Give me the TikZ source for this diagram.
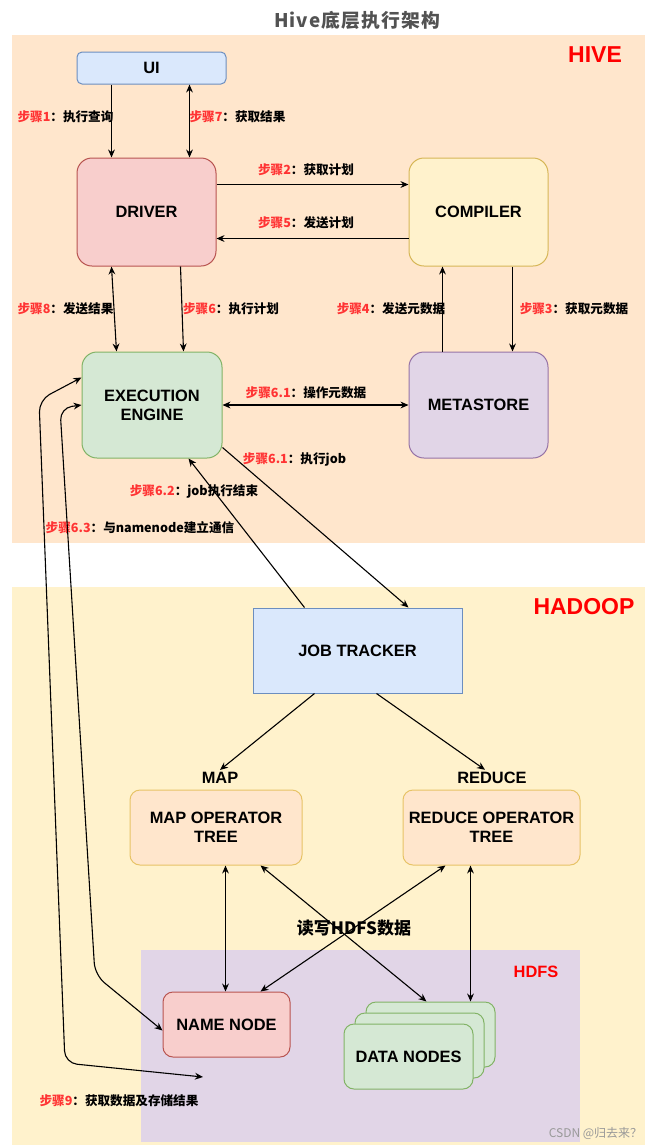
\documentclass[tikz,border=0pt]{standalone}
\usepackage{fontspec}
\setmainfont{Liberation Sans}
\newfontfamily\cjk{Noto Sans CJK SC}
\usetikzlibrary{arrows.meta,calc,positioning}
\definecolor{blueF}{HTML}{DAE8FC}\definecolor{blueD}{HTML}{6C8EBF}
\definecolor{redF}{HTML}{F8CECC}\definecolor{redD}{HTML}{B85450}
\definecolor{yelF}{HTML}{FFF2CC}\definecolor{yelD}{HTML}{D6B656}
\definecolor{grnF}{HTML}{D5E8D4}\definecolor{grnD}{HTML}{82B366}
\definecolor{purF}{HTML}{E1D5E7}\definecolor{purD}{HTML}{9673A6}
\definecolor{orgF}{HTML}{FFE6CC}\definecolor{orgD}{HTML}{D79B00}
\definecolor{stepred}{HTML}{FF3333}
\newcommand{\steptxt}[2]{{\color{stepred}步骤#1}：#2}
\tikzset{
    box/.style={draw, line width=0.5pt, align=center, inner sep=0pt, font=\fontsize{8.2}{9.6}\selectfont\bfseries},
    link/.style={draw, line width=0.55pt, -{Stealth[length=4pt,width=3.4pt]}}, % 单向箭头
    both/.style={link, {Stealth[length=4pt,width=3.4pt]}-{Stealth[length=4pt,width=3.4pt]}},
    steplbl/.style={inner sep=0pt, font=\cjk\fontsize{6.3}{7.5}\selectfont\bfseries},
    arealbl/.style={inner sep=0pt, text=red, font=\fontsize{11.5}{13}\selectfont\bfseries}
}
\begin{document}
\begin{tikzpicture}[x=0.5pt, y=-0.5pt]
	\useasboundingbox (0,0) rectangle (650,1147);
	\node (title) [inner sep=0pt, text=black!68, font=\cjk\fontsize{9.4}{11}\selectfont\bfseries\addfontfeature{LetterSpace=6}] at (357,20) {Hive底层执行架构};

	% 区域
	\fill[orgF] (12,35) rectangle (645,543);
	\fill[yelF] (12,587) rectangle (645,1145);
	\fill[purF] (141,950) rectangle (580,1142);
	\node (hive) [arealbl] at (595,55) {HIVE};
	\node (hadoop) [arealbl] at (584,607) {HADOOP};
	\node (hdfs) [arealbl, font=\fontsize{8.2}{10}\selectfont\bfseries] at (536,972) {HDFS};

	\node (ui) [box, fill=blueF, draw=blueD, rounded corners=2.5pt, minimum width=74.5pt, minimum height=16pt] at (151.5,68) {UI};
	\node (driver) [box, fill=redF, draw=redD, rounded corners=7.5pt, minimum width=69.5pt, minimum height=54pt] at (146.5,212) {DRIVER};
	\node (compiler) [box, fill=yelF, draw=yelD, rounded corners=7.5pt, minimum width=69.5pt, minimum height=54pt] at (478.5,212) {COMPILER};
	\node (exec) [box, fill=grnF, draw=grnD, rounded corners=7.5pt, minimum width=70pt, minimum height=53pt] at (152,405) {EXECUTION\\ENGINE};
	\node (metastore) [box, fill=purF, draw=purD, rounded corners=7.5pt, minimum width=69.5pt, minimum height=53pt] at (478.5,405) {METASTORE};

	\node (jt) [box, fill=blueF, draw=blueD, minimum width=104.5pt, minimum height=42.5pt] at (357.5,650.5) {JOB TRACKER};
	\node (maplbl) [inner sep=1pt, font=\fontsize{8.2}{9.6}\selectfont\bfseries] at (220,778) {MAP};
	\node (redlbl) [inner sep=1pt, font=\fontsize{8.2}{9.6}\selectfont\bfseries] at (492,778) {REDUCE};
	\node (map) [box, fill=orgF, draw=orgD!60, rounded corners=5pt, minimum width=86pt, minimum height=37.5pt] at (216,827.5) {MAP OPERATOR\\TREE};
	\node (reduce) [box, fill=orgF, draw=orgD!60, rounded corners=5pt, minimum width=88.5pt, minimum height=37.5pt] at (491.5,827.5) {REDUCE OPERATOR\\TREE};
	\node (rw) [inner sep=0pt, font=\cjk\fontsize{8.5}{10}\selectfont\bfseries] at (354,928) {读写HDFS数据};

	\node (namenode) [box, fill=redF, draw=redD, rounded corners=5pt, minimum width=63.5pt, minimum height=32.5pt] at (226.5,1024.5) {NAME NODE};
	\node (datanodes3) [box, fill=grnF, draw=grnD, rounded corners=5pt, minimum width=64.5pt, minimum height=32.5pt] at (430.5,1034.5) {};
	\node (datanodes2) [box, fill=grnF, draw=grnD, rounded corners=5pt, minimum width=64.5pt, minimum height=32.5pt] at (419.5,1045.5) {};
	\node (datanodes) [box, fill=grnF, draw=grnD, rounded corners=5pt, minimum width=64.5pt, minimum height=32.5pt] at (408.5,1056.5) {DATA NODES};
	\coordinate (store) at (203,1077);

	\node (s1) [steplbl] at (65.5,117) {\steptxt{1}{执行查询}};
	\node (s7) [steplbl] at (237.5,117) {\steptxt{7}{获取结果}};
	\node (s2) [steplbl] at (306,170) {\steptxt{2}{获取计划}};
	\node (s5) [steplbl] at (306,223) {\steptxt{5}{发送计划}};
	\node (s8) [steplbl] at (65.5,309) {\steptxt{8}{发送结果}};
	\node (s6) [steplbl] at (231,309) {\steptxt{6}{执行计划}};
	\node (s4) [steplbl] at (391,309) {\steptxt{4}{发送元数据}};
	\node (s3) [steplbl] at (574,309) {\steptxt{3}{获取元数据}};
	\node (s61a) [steplbl] at (306,393) {\steptxt{6.1}{操作元数据}};
	\node (s61b) [steplbl] at (294.5,459) {\steptxt{6.1}{执行job}};
	\node (s62) [steplbl] at (194,491) {\steptxt{6.2}{job执行结束}};
	\node (s63) [steplbl] at (140,528) {\steptxt{6.3}{与namenode建立通信}};
	\node (s9) [steplbl] at (119,1101) {\steptxt{9}{获取数据及存储结果}};
	\node (mark) [inner sep=0pt, text=black!40, font=\cjk\fontsize{6}{7}\selectfont] at (595.5,1133) {CSDN @归去来？};

	\draw[link] ($(ui.south west)+(35,0)$) -- ($(driver.north west)+(35,0)$);
	\draw[both] ($(ui.south west)+(113,0)$) -- ($(driver.north west)+(113,0)$);
	\draw[link] ($(driver.north east)+(0,27)$) -- ($(compiler.north west)+(0,27)$);
	\draw[link] ($(compiler.north west)+(0,81)$) -- ($(driver.north east)+(0,81)$);
	\draw[both] ($(driver.south west)+(35,0)$) -- ($(exec.north west)+(35,0)$);
	\draw[link] ($(driver.south west)+(104,0)$) -- ($(exec.north west)+(102,0)$);
	\draw[link] ($(metastore.north west)+(34,0)$) -- ($(compiler.south west)+(34,0)$);
	\draw[link] ($(compiler.south west)+(104,0)$) -- ($(metastore.north west)+(104,0)$);
	\draw[both] (exec.east) -- (metastore.west);
	\draw[link] ($(exec.south east)+(0,-11)$) -- ($(jt.north west)+(156,0)$);
	\draw[link] ($(jt.north west)+(52,0)$) -- ($(exec.south west)+(107,0)$);
	\draw[both, rounded corners=6pt] ($(exec.north west)+(0,26)$) -- (39,400) -- (65,1063) -- (store);
	\draw[both, rounded corners=6pt] (exec.west) -- (60,408) -- (95,975) -- ($(namenode.west)+(0,6)$);

	\draw[link] ($(jt.south west)+(62,0)$) -- (maplbl.north);
	\draw[link] ($(jt.south west)+(124,0)$) -- ($(redlbl.north)+(-7,0)$);
	\draw[both] ($(map.south west)+(96,0)$) -- ($(namenode.north west)+(63,0)$);
	\draw[both] ($(map.south west)+(131,0)$) -- ($(datanodes3.north west)+(61,0)$);
	\draw[both] ($(reduce.south west)+(43,0)$) -- ($(namenode.north west)+(98,0)$);
	\draw[both] ($(reduce.south west)+(68,0)$) -- ($(datanodes3.north west)+(105,0)$);
\end{tikzpicture}
\end{document}
